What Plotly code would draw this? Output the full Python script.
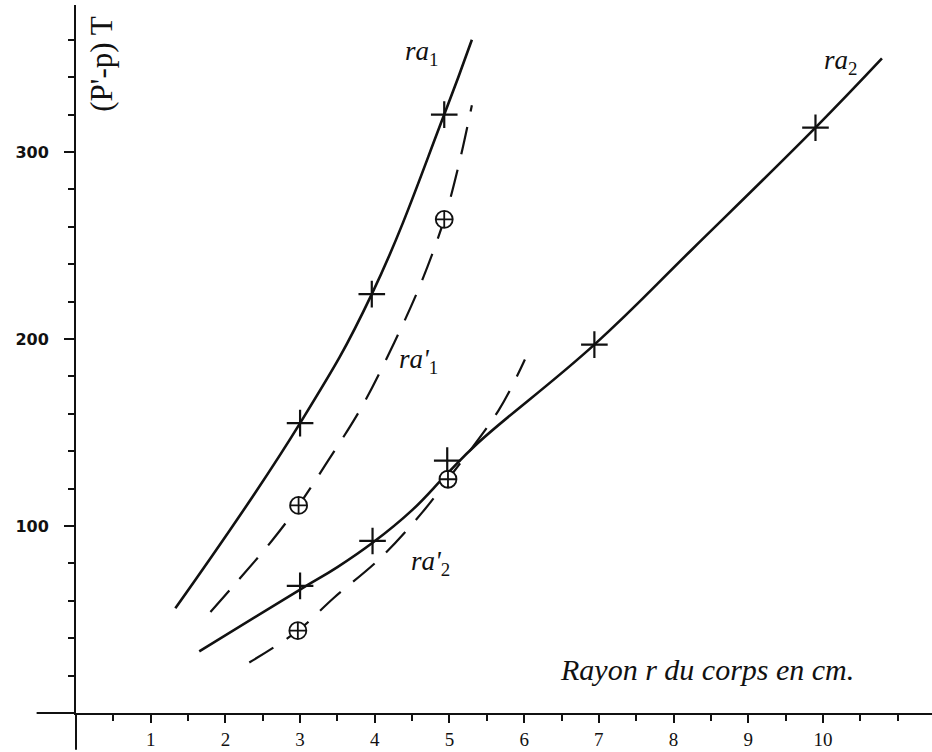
import plotly.graph_objects as go

# ---- data ----
# curve anchor points (r in cm, (P'-p) T)
ra1_x = [1.33, 3.0, 3.96, 4.93, 5.30]
ra1_y = [56, 155, 224, 320, 360]

ra1p_x = [1.80, 2.13, 2.62, 2.98, 3.36, 3.83, 4.26, 4.62, 4.93, 5.13, 5.30]
ra1p_y = [54, 69, 92, 111, 134, 164, 198, 230, 264, 294, 325]

ra2_x = [1.65, 3.0, 3.5, 3.97, 4.5, 4.97, 5.37, 6.94, 8.25, 9.9, 10.79]
ra2_y = [33, 66, 78, 91, 108.5, 128, 144, 197, 248, 313, 350]

ra2p_x = [2.32, 2.97, 3.45, 4.08, 4.63, 4.98, 5.66, 6.01]
ra2p_y = [27, 44, 61.5, 83, 107, 125, 162, 189]

# measured points
ra1_px = [3.0, 3.96, 4.93]
ra1_py = [155, 224, 320]
ra1p_px = [2.98, 4.93]
ra1p_py = [111, 264]
ra2_px = [3.0, 3.97, 4.97, 6.94, 9.9]
ra2_py = [68, 92, 135, 197, 313]
ra2p_px = [2.97, 4.98]
ra2p_py = [44, 125]

x_ticks = [1, 2, 3, 4, 5, 6, 7, 8, 9, 10]
y_ticks = [100, 200, 300]

INK = "#111111"
fig = go.Figure()

solid = dict(color=INK, width=2.6, shape="spline", smoothing=1.2)
dashed = dict(color=INK, width=2.2, shape="spline", smoothing=1.0, dash="28px,16px")

fig.add_trace(go.Scatter(x=ra1_x, y=ra1_y, mode="lines", line=solid))
fig.add_trace(go.Scatter(x=ra2_x, y=ra2_y, mode="lines", line=solid))
fig.add_trace(go.Scatter(x=ra1p_x, y=ra1p_y, mode="lines", line=dashed))
fig.add_trace(go.Scatter(x=ra2p_x, y=ra2p_y, mode="lines", line=dashed))

plus = dict(symbol="cross-thin", size=19, line=dict(color=INK, width=2.2))
oplus = dict(symbol="circle-cross", size=17, color="white", line=dict(color=INK, width=1.8))

fig.add_trace(go.Scatter(x=ra1_px, y=ra1_py, mode="markers", marker=plus))
fig.add_trace(go.Scatter(x=ra2_px, y=ra2_py, mode="markers", marker=plus))
fig.add_trace(go.Scatter(x=ra1p_px, y=ra1p_py, mode="markers", marker=oplus))
fig.add_trace(go.Scatter(x=ra2p_px, y=ra2p_py, mode="markers", marker=oplus))

lab_font = dict(family="Liberation Serif", size=27, color=INK)
labels = [
    ("<i>ra</i><sub>1</sub>", 4.62, 353),
    ("<i>ra'</i><sub>1</sub>", 4.59, 188),
    ("<i>ra'</i><sub>2</sub>", 4.75, 80),
    ("<i>ra</i><sub>2</sub>", 10.23, 348),
]
for t, x, y in labels:
    fig.add_annotation(text=t, x=x, y=y, xref="x", yref="y", showarrow=False, font=lab_font)

fig.add_annotation(text="<i>Rayon r du corps en cm.</i>", x=6.45, y=23, xref="x", yref="y",
                   xanchor="left", yanchor="middle", showarrow=False,
                   font=dict(family="Liberation Serif", size=30, color=INK))

fig.add_annotation(text="(P'-p) T", x=0.33, y=347, xref="x", yref="y", textangle=-90,
                   showarrow=False, font=dict(family="Liberation Serif", size=31, color=INK))

# axis extensions beyond the origin
fig.add_shape(type="line", xref="paper", yref="paper", x0=-0.046, y0=0, x1=0, y1=0,
              line=dict(color=INK, width=2))
fig.add_shape(type="line", xref="paper", yref="paper", x0=0, y0=0, x1=0, y1=-0.052,
              line=dict(color=INK, width=2))

fig.update_layout(
    width=932, height=752,
    margin=dict(l=76, r=0, t=5, b=39),
    paper_bgcolor="white", plot_bgcolor="white",
    showlegend=False,
    xaxis=dict(range=[0, 11.46], showgrid=False, zeroline=False, automargin=False,
               showline=True, linecolor=INK, linewidth=2,
               tickmode="array", tickvals=x_ticks, ticks="outside", ticklen=8,
               tickwidth=2, tickcolor=INK, ticklabelstandoff=0,
               tickfont=dict(family="Liberation Serif", size=19, color=INK),
               minor=dict(dtick=0.5, tick0=0, ticks="outside", ticklen=6,
                          tickwidth=2, tickcolor=INK, showgrid=False)),
    yaxis=dict(range=[0, 378.6], showgrid=False, zeroline=False, automargin=False,
               showline=True, linecolor=INK, linewidth=2,
               tickmode="array", tickvals=y_ticks, ticks="outside", ticklen=10,
               tickwidth=2, tickcolor=INK, ticklabelstandoff=12,
               tickfont=dict(family="DejaVu Sans", size=16, color=INK, weight="bold"),
               minor=dict(dtick=20, tick0=0, ticks="outside", ticklen=6,
                          tickwidth=2, tickcolor=INK, showgrid=False)),
)

fig.write_html("out.html")
